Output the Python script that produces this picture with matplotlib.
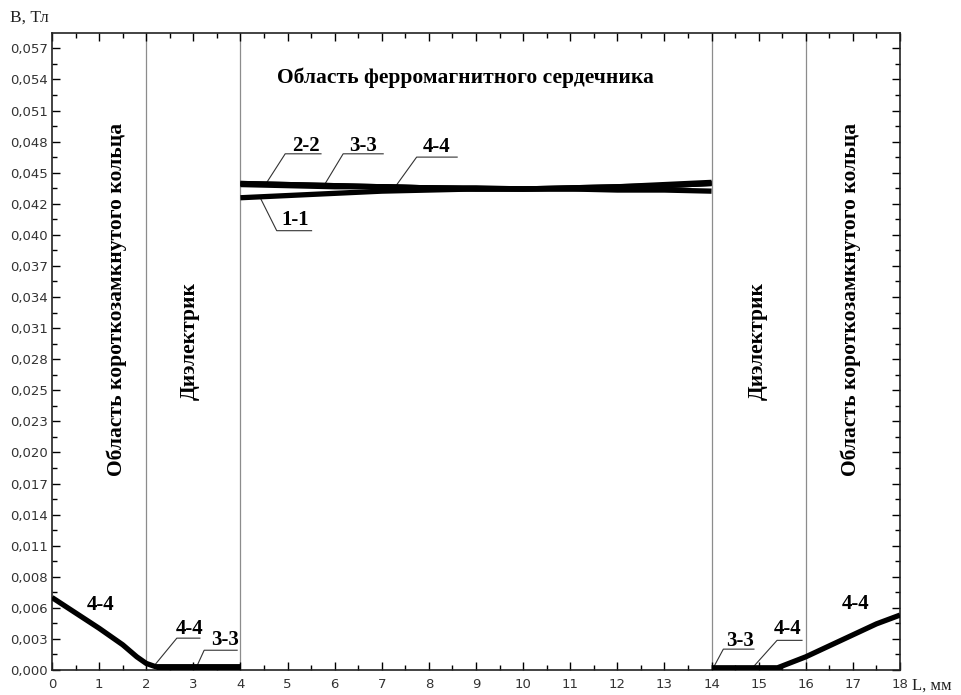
import matplotlib
matplotlib.use("Agg")
import matplotlib.pyplot as plt
from matplotlib.ticker import MultipleLocator, FixedLocator

# ---- data ----
x_core = [4, 5, 6, 7, 8, 9, 10, 11, 12, 13, 14]
B_1_1 = [0.0430, 0.0432, 0.0434, 0.0436, 0.0437, 0.0438, 0.0438, 0.0438, 0.0437, 0.0437, 0.0436]
B_2_2 = [0.0443, 0.0442, 0.0441, 0.0440, 0.0439, 0.0438, 0.0438, 0.0439, 0.0440, 0.0442, 0.0444]
B_3_3 = [0.0443, 0.0442, 0.0441, 0.0440, 0.0439, 0.0439, 0.0438, 0.0439, 0.0440, 0.0441, 0.0443]
B_4_4 = [0.0442, 0.0441, 0.0440, 0.0440, 0.0439, 0.0438, 0.0438, 0.0438, 0.0439, 0.0441, 0.0443]

x_left_44 = [0, 0.5, 1.0, 1.5, 1.8, 2.0, 2.2, 2.5, 3.0, 3.5, 4.0]
B_left_44 = [0.0066, 0.0052, 0.0038, 0.0023, 0.0012, 0.0006, 0.0003, 0.0003, 0.0003, 0.0003, 0.0003]
x_left_33 = [2.2, 3.0, 4.0]
B_left_33 = [0.0002, 0.0002, 0.0002]

x_right_33 = [14.0, 14.8, 15.5]
B_right_33 = [0.0002, 0.0002, 0.0002]
x_right_44 = [14.0, 15.0, 15.4, 16.0, 16.5, 17.0, 17.5, 18.0]
B_right_44 = [0.0002, 0.0002, 0.0002, 0.0012, 0.0022, 0.0032, 0.0042, 0.0050]

y_ticks = [i * 0.00283 for i in range(21)]
y_tick_labels = ["0,000", "0,003", "0,006", "0,008", "0,011", "0,014", "0,017", "0,020",
                 "0,023", "0,025", "0,028", "0,031", "0,034", "0,037", "0,040", "0,042",
                 "0,045", "0,048", "0,051", "0,054", "0,057"]
x_ticks = list(range(0, 19))
region_bounds = [2, 4, 14, 16]

fig = plt.figure(figsize=(9.62, 6.95), dpi=100)
ax = fig.add_axes([52 / 962, 25 / 695, 848 / 962, 637 / 695])
ax.set_xlim(0, 18)
ax.set_ylim(0, 0.058)

for xb in region_bounds:
    ax.axvline(xb, color="#8c8c8c", lw=0.9, zorder=1)

lw = 3.8
for yy in (B_1_1, B_2_2, B_3_3, B_4_4):
    ax.plot(x_core, yy, color="black", lw=lw, solid_capstyle="butt", zorder=3)
ax.plot(x_left_44, B_left_44, color="black", lw=lw, solid_capstyle="butt", zorder=3)
ax.plot(x_left_33, B_left_33, color="black", lw=lw, solid_capstyle="butt", zorder=3)
ax.plot(x_right_33, B_right_33, color="black", lw=lw, solid_capstyle="butt", zorder=3)
ax.plot(x_right_44, B_right_44, color="black", lw=lw, solid_capstyle="butt", zorder=3)

# ticks
ax.xaxis.set_major_locator(FixedLocator(x_ticks))
ax.xaxis.set_minor_locator(MultipleLocator(0.5))
ax.yaxis.set_major_locator(FixedLocator(y_ticks))
ax.yaxis.set_minor_locator(FixedLocator([t + 0.00283 / 2 for t in y_ticks]))
ax.set_yticklabels(y_tick_labels)
ax.tick_params(which="both", direction="in", top=True, right=True, labelsize=9.5,
               colors="black", labelcolor="#333333")
ax.tick_params(which="major", length=6, width=1)
ax.tick_params(which="minor", length=3.5, width=1)
ax.tick_params(axis="y", pad=3)
ax.tick_params(axis="x", pad=6)
for sp in ax.spines.values():
    sp.set_linewidth(1.2)
    sp.set_color("#222222")

serif = "Liberation Serif"
fig.text(10 / 962, 1 - 18 / 695, "B, Тл", family=serif, fontsize=12.5, va="center", ha="left", color="#222222")
fig.text(912 / 962, 1 - 686 / 695, "L, мм", family=serif, fontsize=12, va="center", ha="left", color="#222222")

bold = dict(family=serif, fontweight="bold", fontsize=15.5, color="black")
ax.text(8.78, 0.0539, "Область ферромагнитного сердечника", ha="center", va="center", **bold)
ax.text(1.38, 0.0337, "Область короткозамкнутого кольца", ha="center", va="center", rotation=90, **bold)
ax.text(16.96, 0.0337, "Область короткозамкнутого кольца", ha="center", va="center", rotation=90, **bold)
ax.text(2.93, 0.0300, "Диэлектрик", ha="center", va="center", rotation=90, **bold)
ax.text(14.98, 0.0300, "Диэлектрик", ha="center", va="center", rotation=90, **bold)

# curve labels with leader lines
lab = dict(family=serif, fontweight="bold", fontsize=15, color="black", ha="center", va="center")
leader = dict(color="#333333", lw=0.8, zorder=2)

def tag(text, tx, ty, pts):
    ax.text(tx, ty, text, **lab)
    if pts:
        ax.plot([p[0] for p in pts], [p[1] for p in pts], **leader)

tag("2-2", 5.39, 0.0477, [(5.71, 0.0470), (4.95, 0.0470), (4.56, 0.0444)])
tag("3-3", 6.60, 0.0477, [(7.03, 0.0470), (6.18, 0.0470), (5.80, 0.0443)])
tag("4-4", 8.17, 0.0476, [(8.60, 0.0467), (7.74, 0.0467), (7.32, 0.0442)])
tag("1-1", 5.16, 0.0410, [(4.42, 0.0430), (4.77, 0.0400), (5.51, 0.0400)])
tag("4-4", 1.04, 0.0059, None)
tag("4-4", 2.91, 0.0037, [(3.14, 0.0029), (2.65, 0.0029), (2.19, 0.0005)])
tag("3-3", 3.67, 0.0027, [(3.93, 0.0018), (3.23, 0.0018), (3.07, 0.0003)])
tag("3-3", 14.61, 0.0026, [(14.90, 0.0019), (14.25, 0.0019), (14.05, 0.0003)])
tag("4-4", 15.62, 0.0037, [(15.92, 0.0027), (15.39, 0.0027), (14.89, 0.0003)])
tag("4-4", 17.05, 0.0060, None)

fig.savefig("out.png", dpi=100)
